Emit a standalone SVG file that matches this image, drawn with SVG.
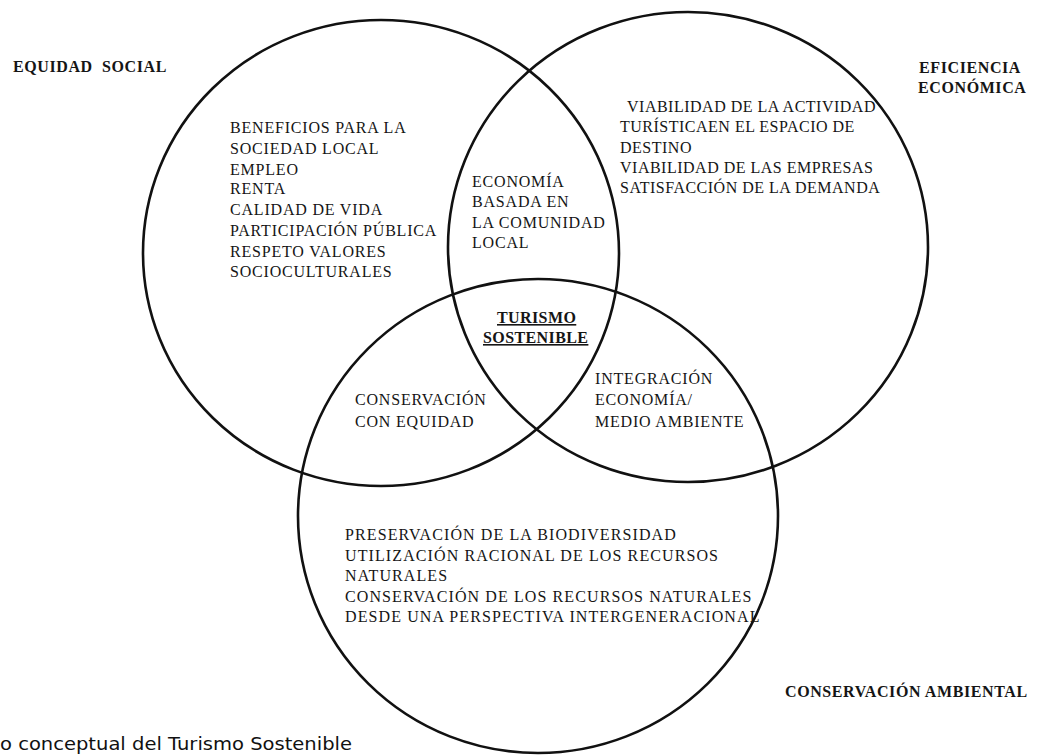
<svg xmlns="http://www.w3.org/2000/svg" width="1042" height="755" viewBox="0 0 1042 755">
<style>
.c{fill:none;stroke:#111;stroke-width:2.6}
.t{font-family:"Liberation Serif","Times New Roman",serif;font-size:16px;fill:#151515;letter-spacing:0.8px}
.r{letter-spacing:0.5px}
.b{letter-spacing:1.1px}
.h{font-family:"Liberation Serif","Times New Roman",serif;font-size:16px;font-weight:bold;fill:#151515;letter-spacing:0.6px;white-space:pre}
.u{font-family:"Liberation Serif","Times New Roman",serif;font-size:16px;font-weight:bold;fill:#151515;text-decoration:underline;letter-spacing:0.4px}
.cap{font-family:"DejaVu Sans","Noto Sans",sans-serif;font-size:18px;fill:#111}
</style>
<rect width="1042" height="755" fill="#fff"/>
<g id="circle-equidad">
<ellipse class="c" cx="381" cy="253" rx="238" ry="233"/>
</g>
<g id="circle-eficiencia">
<ellipse class="c" cx="688" cy="247" rx="240" ry="235"/>
</g>
<g id="circle-conservacion">
<ellipse class="c" cx="538" cy="516" rx="240" ry="237"/>
</g>
<g id="label-equidad">
<text class="h" x="13" y="72" xml:space="preserve">EQUIDAD  SOCIAL</text>
</g>
<g id="label-eficiencia">
<text class="h" x="919" y="73">EFICIENCIA</text>
<text class="h" x="918" y="93">ECONÓMICA</text>
</g>
<g id="label-conservacion">
<text class="h" x="785" y="697">CONSERVACIÓN AMBIENTAL</text>
</g>
<g id="text-equidad">
<text class="t" x="230" y="133">BENEFICIOS PARA LA</text>
<text class="t" x="230" y="154">SOCIEDAD LOCAL</text>
<text class="t" x="230" y="175">EMPLEO</text>
<text class="t" x="230" y="194">RENTA</text>
<text class="t" x="230" y="215">CALIDAD DE VIDA</text>
<text class="t" x="230" y="236">PARTICIPACIÓN PÚBLICA</text>
<text class="t" x="230" y="257">RESPETO VALORES</text>
<text class="t" x="230" y="277">SOCIOCULTURALES</text>
</g>
<g id="text-eficiencia">
<text class="t r" x="627" y="112">VIABILIDAD DE LA ACTIVIDAD</text>
<text class="t r" x="620" y="132">TURÍSTICAEN EL ESPACIO DE</text>
<text class="t r" x="620" y="153">DESTINO</text>
<text class="t r" x="620" y="173">VIABILIDAD DE LAS EMPRESAS</text>
<text class="t r" x="620" y="193">SATISFACCIÓN DE LA DEMANDA</text>
</g>
<g id="text-economia-comunidad">
<text class="t" x="472" y="187">ECONOMÍA</text>
<text class="t" x="472" y="207">BASADA EN</text>
<text class="t" x="472" y="228">LA COMUNIDAD</text>
<text class="t" x="472" y="248">LOCAL</text>
</g>
<g id="text-turismo-sostenible">
<text class="u" x="497" y="323">TURISMO</text>
<text class="u" x="483" y="343">SOSTENIBLE</text>
</g>
<g id="text-conservacion-equidad">
<text class="t" x="355" y="405">CONSERVACIÓN</text>
<text class="t" x="355" y="427">CON EQUIDAD</text>
</g>
<g id="text-integracion">
<text class="t" x="595" y="384">INTEGRACIÓN</text>
<text class="t" x="595" y="405">ECONOMÍA/</text>
<text class="t" x="595" y="427">MEDIO AMBIENTE</text>
</g>
<g id="text-conservacion">
<text class="t b" x="345" y="540">PRESERVACIÓN DE LA BIODIVERSIDAD</text>
<text class="t b" x="345" y="561">UTILIZACIÓN RACIONAL DE LOS RECURSOS</text>
<text class="t b" x="345" y="581">NATURALES</text>
<text class="t b" x="345" y="602">CONSERVACIÓN DE LOS RECURSOS NATURALES</text>
<text class="t b" x="345" y="622">DESDE UNA PERSPECTIVA INTERGENERACIONAL</text>
</g>
<g id="caption">
<text class="cap" x="0" y="750" textLength="352" lengthAdjust="spacingAndGlyphs">o conceptual del Turismo Sostenible</text>
</g>
</svg>
